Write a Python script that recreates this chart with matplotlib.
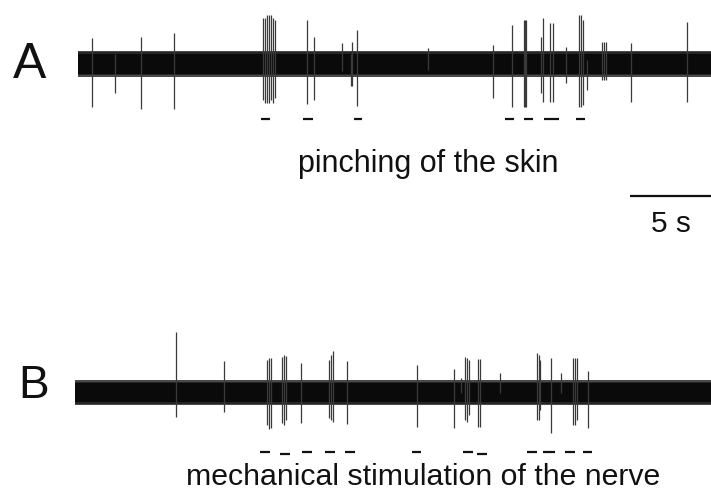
import matplotlib
matplotlib.use("Agg")
import matplotlib.pyplot as plt
import numpy as np

# ---------------- data ----------------
# time axis in seconds (5 s scale bar); amplitude in arbitrary units
trace_a_start, trace_a_end = 0.0, 39.07
trace_b_start, trace_b_end = -0.19, 39.07
noise_a = 13.0   # half-width of background noise band
noise_b = 12.5

# A: pinching of the skin - spikes (time s, upward amp, downward amp)
a_t = [0.86, 2.28, 3.89, 5.93,
       11.42, 11.54, 11.67, 11.79, 11.91, 12.04, 12.16,
       14.14, 14.57, 16.30, 16.85, 16.91, 17.22, 21.60, 25.62, 26.79,
       27.53, 27.59, 27.65, 28.58, 28.70, 29.14, 29.32, 30.12,
       30.93, 31.05, 31.17, 31.42, 32.35, 32.47, 32.59, 34.14, 37.59]
a_up = [25.5, 10, 26.5, 30.5,
        45.5, 45.5, 48.5, 48.5, 48.5, 45.5, 43.5,
        43.5, 26.5, 20.5, 10, 21.5, 33.5, 15.5, 18.5, 38.5,
        43.5, 43.5, 43.5, 26.5, 45.5, 40.5, 40.5, 16.5,
        48.5, 48.5, 43.5, 3.5, 21.5, 21.5, 21.5, 20.5, 41.5]
a_dn = [43.5, 29.5, 45.5, 45.5,
        36.5, 39.5, 39.5, 39.5, 36.5, 39.5, 34.5,
        40.5, 36.5, 7, 22, 22, 42.5, 6, 34.5, 43.5,
        43.5, 43.5, 43.5, 29.5, 38.5, 38.5, 38.5, 19.5,
        43.5, 43.5, 41.5, 26.5, 16.5, 16.5, 16.5, 38.5, 38.5]

# A stimulus marks (start s, end s)
a_stim_start = [11.30, 13.89, 17.04, 26.36, 27.53, 28.77, 30.74]
a_stim_end = [11.85, 14.51, 17.53, 26.91, 28.09, 29.69, 31.30]

# B: mechanical stimulation of the nerve - spikes
b_t = [6.05, 9.01, 11.67, 11.79, 11.91, 12.59, 12.72, 12.84, 13.77,
       15.49, 15.62, 15.74, 16.60, 20.93, 23.21, 23.64,
       23.89, 24.01, 24.14, 24.69, 24.81, 26.05,
       28.33, 28.46, 28.52, 29.20, 29.81, 30.56, 30.68, 30.80, 31.48]
b_up = [61, 32, 33, 35, 35, 36, 38, 37, 30,
        33, 38, 42, 32, 28, 24, 15,
        36, 35, 33, 34, 34, 20,
        40, 38, 33, 35, 20, 35, 35, 35, 22]
b_dn = [24, 19, 32, 36, 35, 30, 32, 27, 30,
        25, 27, 29, 31, 34, 35, 0,
        27, 29, 22, 34, 34, 0,
        27, 27, 17, 40, 0, 32, 32, 27, 35]

# B stimulus marks
b_stim_start = [11.23, 12.47, 13.83, 15.25, 16.48, 20.62, 23.77, 24.63,
                27.72, 28.70, 30.06, 31.17]
b_stim_end = [11.85, 13.09, 14.44, 15.86, 17.10, 21.17, 24.38, 25.25,
              28.33, 29.44, 30.68, 31.73]
b_stim_low = [0, 1, 0, 0, 0, 0, 0, 1, 0, 0, 0, 0]

scale_len = 5.0  # seconds

# ---------------- layout ----------------
W, H = 711, 495
fig = plt.figure(figsize=(W / 100, H / 100), dpi=100)
ax = fig.add_axes([0, 0, 1, 1])
px_per_s = 16.2
x0 = -78 / px_per_s
ax.set_xlim(x0, x0 + W / px_per_s)
ax.set_ylim(0, H)
ax.axis("off")

base_a = H - 63.5
base_b = H - 392.5
stim_a_y = H - 119
stim_b_y = H - 452

font = ["Liberation Sans", "DejaVu Sans"]
ink = "#111111"
spike_col = "#3a3a3a"


def draw_trace(base, t0, t1, half, ts, ups, dns):
    tt = np.array([t0, t1])
    ax.fill_between(tt, base - half, base + half, color="#4a4a4a", lw=0)
    ax.fill_between(tt, base - half + 1.5, base + half - 1.5, color="#262626", lw=0)
    ax.fill_between(tt, base - half + 3, base + half - 3, color="#0a0a0a", lw=0)
    ts = np.asarray(ts)
    ax.vlines(ts, base - np.asarray(dns), base + np.asarray(ups),
              color=spike_col, lw=0.9)


draw_trace(base_a, trace_a_start, trace_a_end, noise_a, a_t, a_up, a_dn)
draw_trace(base_b, trace_b_start, trace_b_end, noise_b, b_t, b_up, b_dn)

ax.hlines([stim_a_y] * len(a_stim_start), a_stim_start, a_stim_end,
          color=ink, lw=1.6)
b_y = [stim_b_y - 2 * low for low in b_stim_low]
ax.hlines(b_y, b_stim_start, b_stim_end, color=ink, lw=1.6)

# scale bar
sb_end = x0 + W / px_per_s
ax.hlines(H - 196, sb_end - scale_len, sb_end, color=ink, lw=1.6)
ax.text(sb_end - scale_len / 2, H - 232, "5 s", ha="center", va="baseline",
        fontsize=21.5, family=font, color=ink)

# labels
ax.text(x0 + 29.5 / px_per_s, H - 78, "A", ha="center", va="baseline",
        fontsize=36, family=font, color=ink)
ax.text(x0 + 34 / px_per_s, H - 398, "B", ha="center", va="baseline",
        fontsize=33, family=font, color=ink)
ax.text(x0 + 428.5 / px_per_s, H - 172, "pinching of the skin", ha="center",
        va="baseline", fontsize=22, family=font, color=ink)
ax.text(x0 + 423.5 / px_per_s, H - 485, "mechanical stimulation of the nerve",
        ha="center", va="baseline", fontsize=21.8, family=font, color=ink)

fig.savefig("out.png", dpi=100)
